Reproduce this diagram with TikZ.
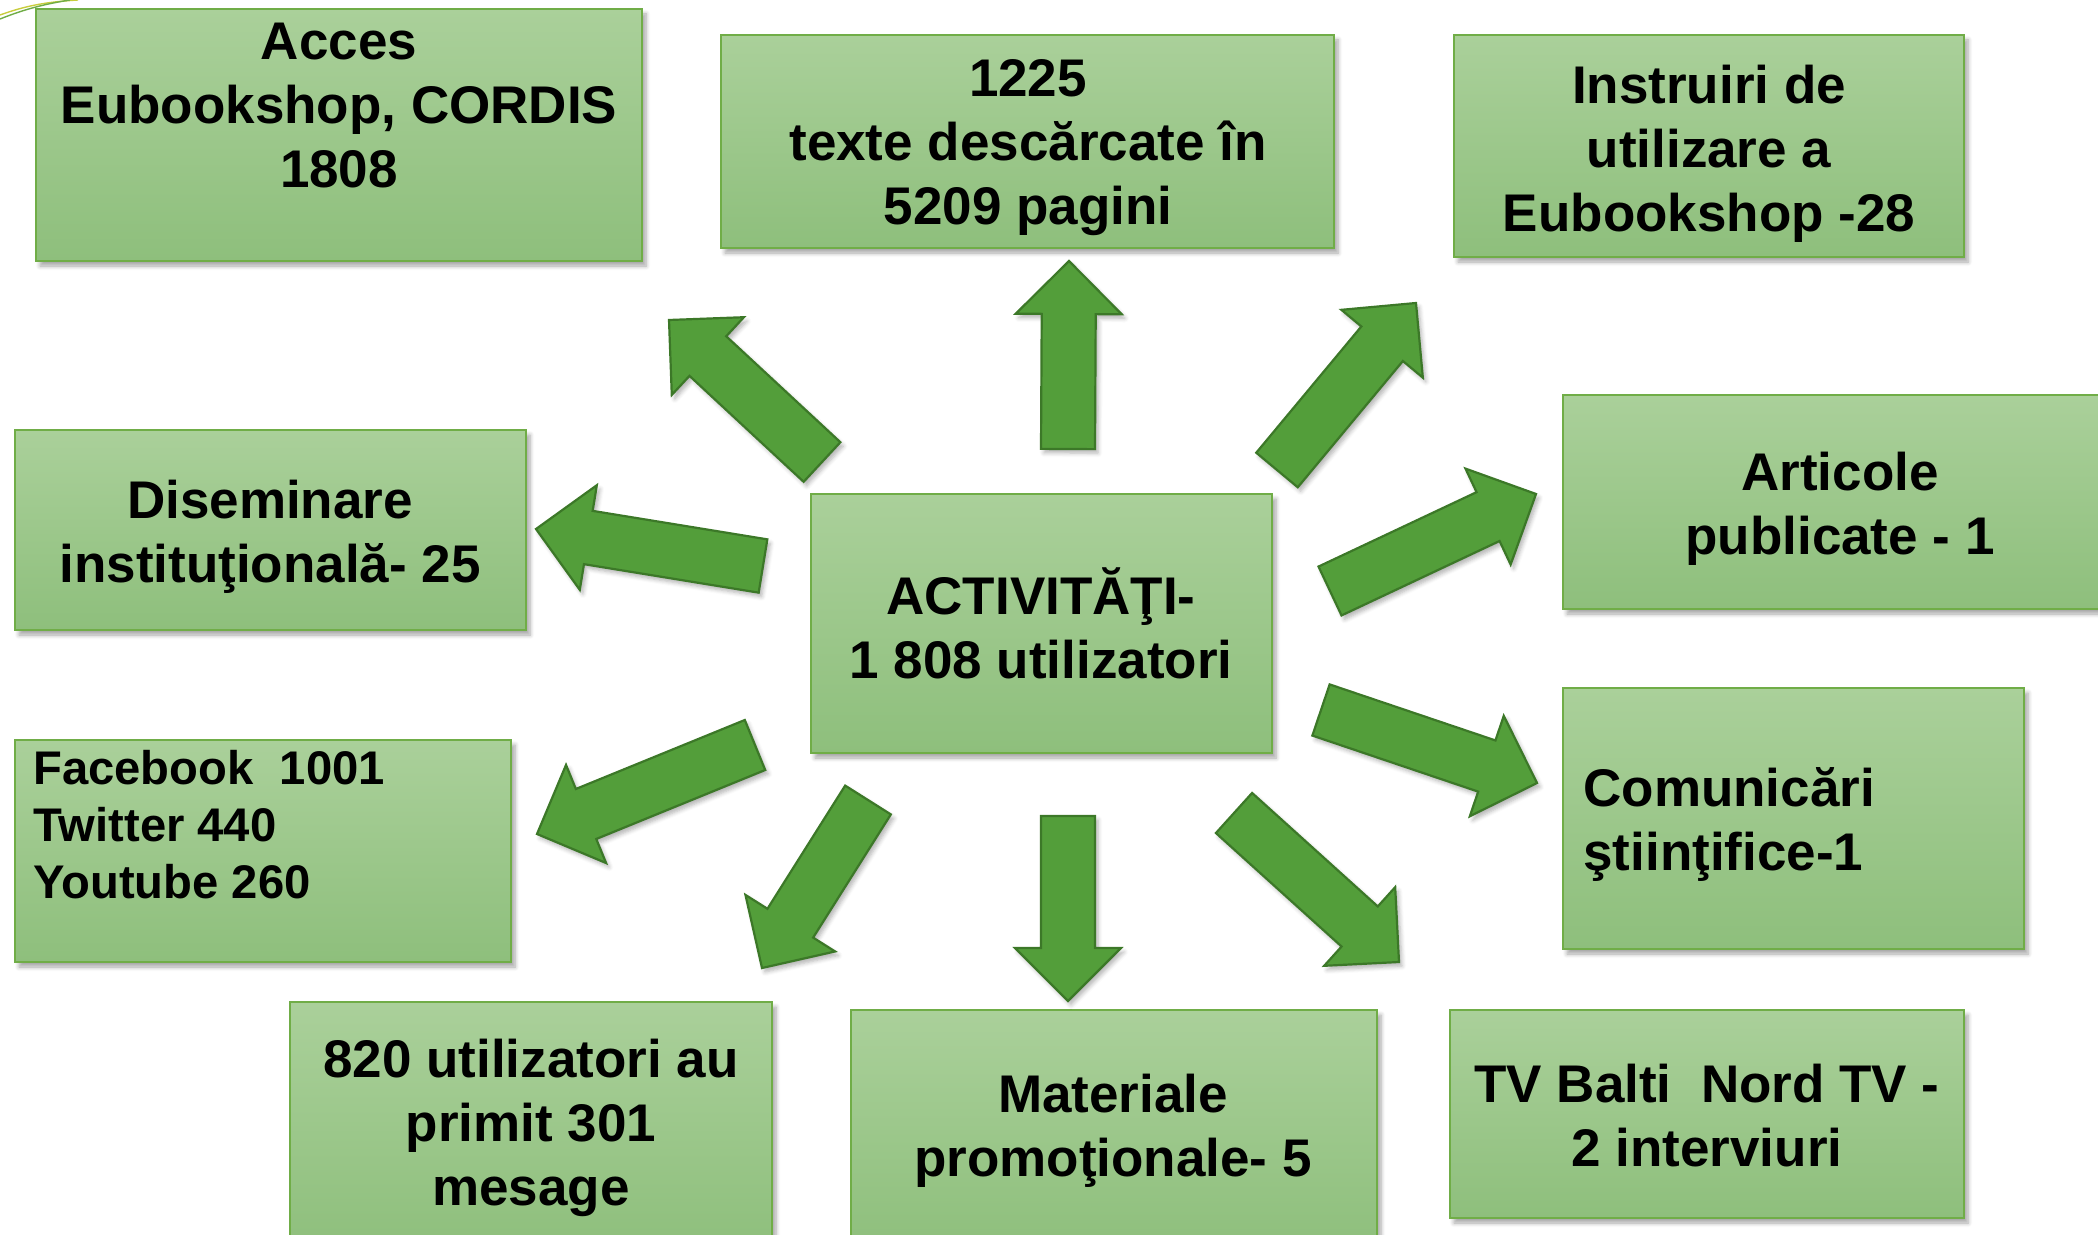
\documentclass[tikz,border=0pt]{standalone}
\usepackage{fontspec}
\setmainfont{Liberation Sans}
\usetikzlibrary{calc,shadows.blur}
\definecolor{boxtop}{RGB}{170,208,154}
\definecolor{boxbot}{RGB}{142,191,124}
\definecolor{boxline}{RGB}{112,173,71}
\definecolor{arrfill}{RGB}{83,158,58}
\definecolor{arrline}{RGB}{60,120,40}
\tikzset{
  box/.style 2 args={draw=boxline, line width=0.8pt, top color=boxtop, bottom color=boxbot,
    minimum width=#1*0.5pt, minimum height=#2*0.5pt, inner sep=0pt,
    blur shadow={shadow xshift=2pt, shadow yshift=-2.5pt, shadow blur steps=6, shadow opacity=35}},
  txt/.style={font=\fontsize{26.5}{32}\selectfont\bfseries, align=center, inner sep=0pt,
    execute at begin node=\strut, execute at end node=\strut},
  txtl/.style={txt, align=left, anchor=west},
  txts/.style={font=\fontsize{23.6}{28.5}\selectfont\bfseries, align=left, anchor=west, inner sep=0pt,
    execute at begin node=\strut, execute at end node=\strut},
  arr/.style={fill=arrfill, draw=arrline, line width=1.1pt, line join=miter,
    blur shadow={shadow xshift=1.5pt, shadow yshift=-2pt, shadow blur steps=5, shadow opacity=30}},
}
\newcommand\blockarr[3]{%
  \coordinate (#1t) at #2; \coordinate (#1p) at #3;
  \coordinate (#1h) at ($(#1p)!26.5pt!(#1t)$);
  \path[arr] ($(#1t)!13.5pt!90:(#1p)$) -- ($(#1h)!13.5pt!90:(#1p)$) -- ($(#1h)!26.5pt!90:(#1p)$)
    -- (#1p) -- ($(#1h)!26.5pt!-90:(#1p)$) -- ($(#1h)!13.5pt!-90:(#1p)$) -- ($(#1t)!13.5pt!-90:(#1p)$) -- cycle;
}
\begin{document}
\begin{tikzpicture}[x=0.5pt, y=-0.5pt]
\useasboundingbox (0,0) rectangle (2098,1235);
% decorative corner lines
\draw[draw={rgb,255:red,200;green,205;blue,60}, line width=0.7pt] (0,15) .. controls (25,6) and (45,2) .. (78,0);
\draw[draw=boxline, line width=0.7pt] (0,19) .. controls (25,9) and (45,4) .. (70,0);

% boxes
\node[box={606}{252}] (acc) at (339,135) {};
\node[box={613}{213}] (dl)  at (1027.5,141.5) {};
\node[box={510}{222}] (ins) at (1709,146) {};
\node[box={547}{214}] (art) at (1836.5,502) {};
\node[box={511}{200}] (dis) at (270.5,530) {};
\node[box={461}{259}] (act) at (1041.5,623.5) {};
\node[box={461}{261}] (com) at (1793.5,818.5) {};
\node[box={496}{222}] (soc) at (263,851) {};
\node[box={482}{248}] (msg) at (531,1126) {};
\node[box={526}{240}] (mat) at (1114,1130) {};
\node[box={514}{208}] (tv)  at (1707,1114) {};

% texts
\node[txt] (accT) at (339,115) {Acces\\Eubookshop, CORDIS\\1808};
\node[txt] (dlT)  at (1028,152) {1225\\texte descărcate în\\5209 pagini};
\node[txt] (insT) at (1709,158) {Instruiri de\\utilizare a\\Eubookshop -28};
\node[txt] (artT) at (1840,513) {Articole\\publicate - 1};
\node[txt] (disT) at (270,541) {Diseminare\\instituţională- 25};
\node[txt] (actT) at (1041,633) {ACTIVITĂŢI-\\1 808 utilizatori};
\node[txtl] (comT) at (1583,829) {Comunicări\\ştiinţifice-1};
\node[txts] (socT) at (33,833) {Facebook\ \ 1001\\Twitter 440\\Youtube 260};
\node[txt] (msgT) at (531,1132) {820 utilizatori au\\primit 301\\mesage};
\node[txt] (matT) at (1113,1135) {Materiale\\promoţionale- 5};
\node[txt] (tvT)  at (1707,1125) {TV Balti\ \ Nord TV -\\2 interviuri};

% arrows
\blockarr{aU}{(1068,449)}{(1069,261)}
\blockarr{aNW}{(822,462)}{(669,320)}
\blockarr{aNE}{(1277,470)}{(1416,303)}
\blockarr{aW}{(763,566)}{(536,529)}
\blockarr{aENE}{(1330,591)}{(1536,494)}
\blockarr{aESE}{(1321,710)}{(1537,783)}
\blockarr{aSE}{(1234,813)}{(1399,962)}
\blockarr{aS}{(1068,816)}{(1068,1001)}
\blockarr{aSSW}{(868,800)}{(762,968)}
\blockarr{aWSW}{(755,745)}{(537,834)}
\end{tikzpicture}
\end{document}
